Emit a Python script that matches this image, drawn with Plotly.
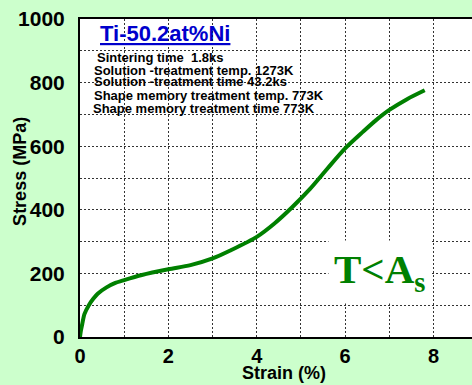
import plotly.graph_objects as go

strain = [0, 0.02, 0.05, 0.1, 0.2, 0.3, 0.4, 0.6, 0.8, 1.0, 1.4, 2.0, 2.5, 3.0, 3.4,
          4.0, 4.4, 4.8, 5.2, 5.6, 6.0, 6.4, 6.7, 7.0, 7.4, 7.8]
stress = [0, 20, 40, 72, 100, 120, 136, 156, 170, 179, 195, 213, 226, 247, 272,
          315, 357, 408, 465, 530, 593, 645, 682, 714, 748, 776]

x_ticks = [0, 2, 4, 6, 8]
y_ticks = [0, 200, 400, 600, 800, 1000]

title_text = "Ti-50.2at%Ni"
info_lines = [
    "Sintering time  1.8ks",
    "Solution -treatment temp. 1273K",
    "Solution -treatment time 43.2ks",
    "Shape memory treatment temp. 773K",
    "Shape memory treatment time 773K",
]
condition = "T<A<sub>s</sub>"

GREEN = "#008000"
GRID = "#333333"
FONT = "Liberation Sans, Arial, sans-serif"

fig = go.Figure()
fig.add_trace(go.Scatter(x=strain, y=stress, mode="lines",
                         line=dict(color=GREEN, width=4, shape="spline", smoothing=0.8),
                         showlegend=False, hoverinfo="skip"))

fig.update_layout(
    width=472, height=385,
    margin=dict(l=80, r=0, t=19, b=48),
    paper_bgcolor="#CCFFCC",
    plot_bgcolor="white",
    font=dict(family=FONT, color="black"),
)

fig.update_xaxes(
    range=[0, 8.87], tickvals=x_ticks, ticktext=[str(v) for v in x_ticks],
    showgrid=True, gridcolor=GRID, griddash="2px,2px", gridwidth=1,
    minor=dict(dtick=1, tick0=0, showgrid=True, gridcolor=GRID, griddash="2px,2px", gridwidth=1),
    zeroline=False, showline=True, linecolor="black", linewidth=2, mirror=True,
    ticks="", tickfont=dict(size=20, family=FONT, weight="bold"), automargin=False,
)
fig.update_yaxes(
    range=[0, 1000], tickvals=y_ticks, ticktext=[str(v) for v in y_ticks],
    showgrid=True, gridcolor=GRID, griddash="2px,2px", gridwidth=1,
    minor=dict(dtick=100, tick0=0, showgrid=True, gridcolor=GRID, griddash="2px,2px", gridwidth=1),
    zeroline=False, showline=True, linecolor="black", linewidth=2,
    ticks="", tickfont=dict(size=21, family=FONT, weight="bold"), ticklabelstandoff=9,
    automargin=False,
)

# axis titles
fig.add_annotation(x=0.52, y=-0.112, xref="paper", yref="paper", xanchor="center", yanchor="middle",
                   text="<b>Strain (%)</b>", showarrow=False,
                   font=dict(size=18, color="black", family=FONT))
fig.add_annotation(x=-0.155, y=0.52, xref="paper", yref="paper", xanchor="center", yanchor="middle",
                   text="<b>Stress (MPa)</b>", showarrow=False, textangle=-90,
                   font=dict(size=18, color="black", family=FONT))

fig.add_annotation(x=0.41, y=953, xref="x", yref="y", xanchor="left", yanchor="middle",
                   text="<b><u>" + title_text + "</u></b>", showarrow=False,
                   font=dict(size=22, color="#0000CC", family=FONT))

line_x = [0.34, 0.27, 0.27, 0.27, 0.25]
line_y = [880, 839, 804, 760, 719]
for t, lx, ly in zip(info_lines, line_x, line_y):
    fig.add_annotation(x=lx, y=ly, xref="x", yref="y", xanchor="left", yanchor="middle",
                       text="<b>" + t + "</b>", showarrow=False,
                       font=dict(size=13, color="black", family=FONT))

fig.add_annotation(x=6.78, y=205, xref="x", yref="y", xanchor="center", yanchor="middle",
                   text="<b>" + condition + "</b>", showarrow=False, bgcolor="white",
                   borderpad=5,
                   font=dict(size=41, color=GREEN, family="Liberation Serif, Times New Roman, serif"))

fig.write_html("out.html", config={"displayModeBar": False},
               post_script="document.body.style.margin='0';document.body.style.overflow='hidden';")
